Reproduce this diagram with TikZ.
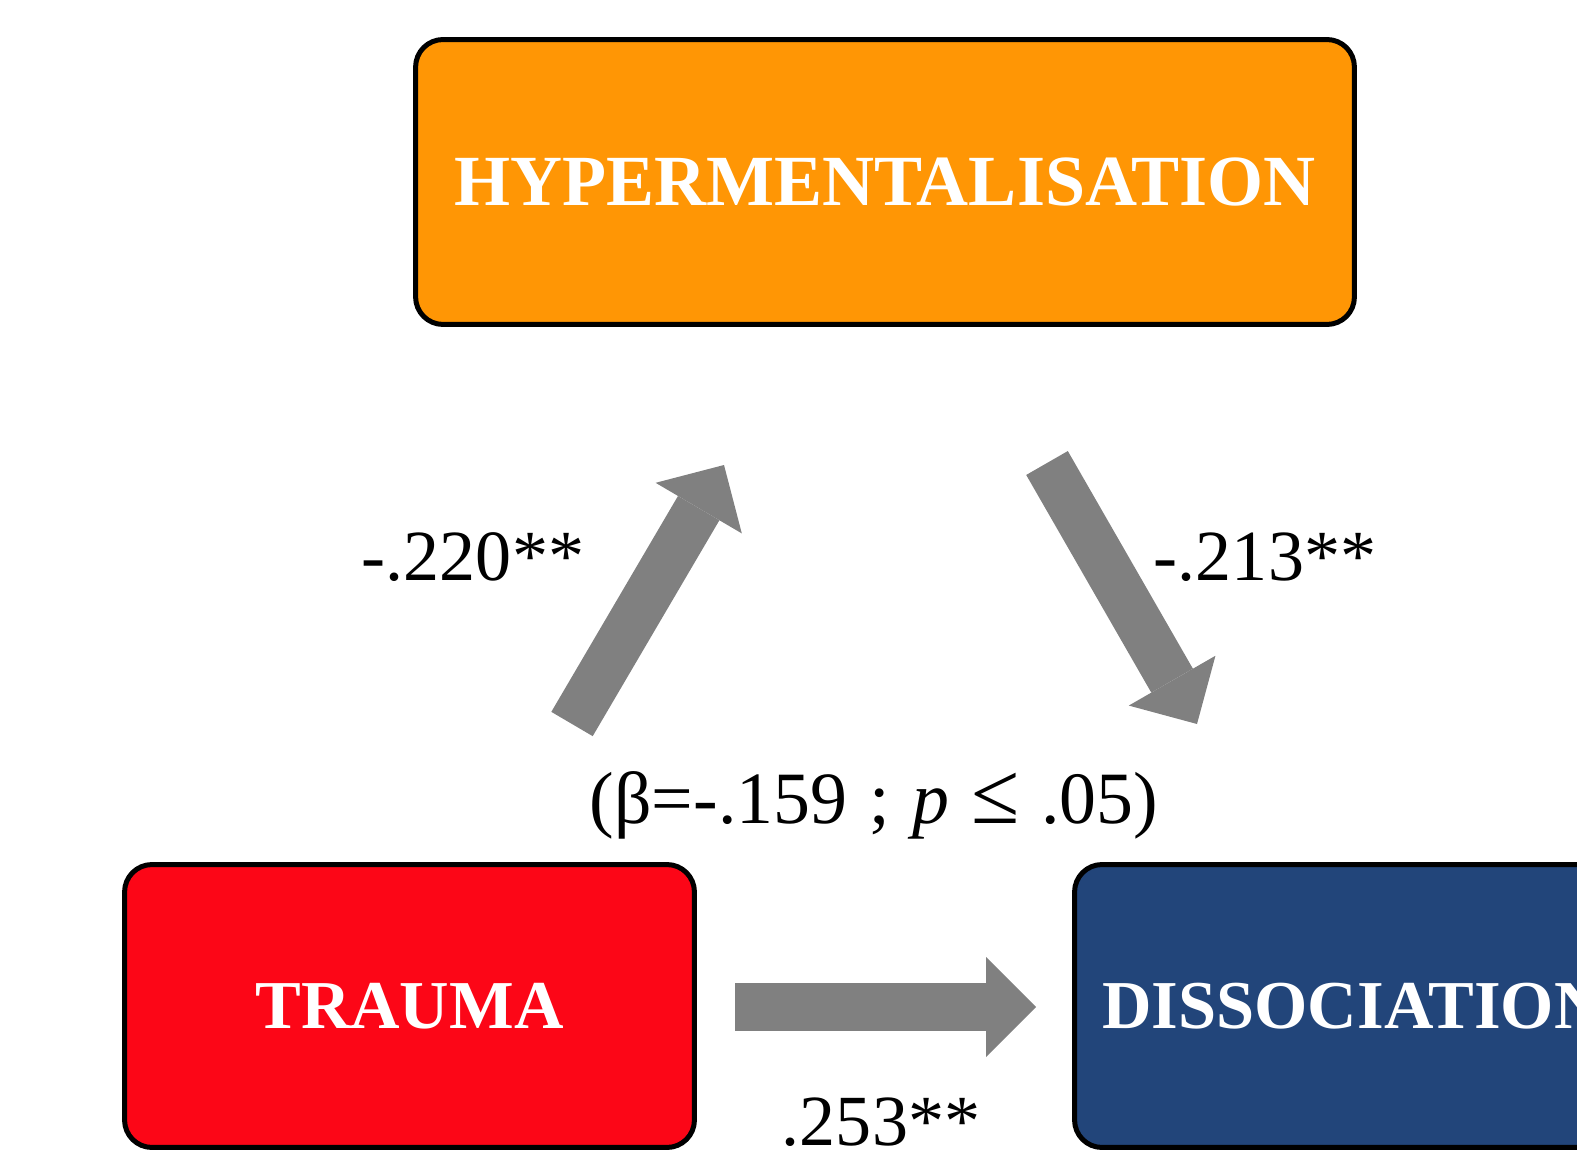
\documentclass[tikz,border=0pt]{standalone}
\usepackage{fontspec}
\setmainfont{Liberation Serif}
\usetikzlibrary{arrows.meta}
\definecolor{hyperorange}{RGB}{255,150,5}
\definecolor{traumared}{RGB}{252,6,23}
\definecolor{dissoblue}{RGB}{34,69,122}
\definecolor{arrowgray}{RGB}{128,128,128}
\begin{document}
\begin{tikzpicture}[x=0.02cm,y=-0.02cm,
    varbox/.style={draw=black,line width=0.1cm,rounded corners=0.55cm,text=white,
      font=\fontsize{39}{47}\selectfont\bfseries,inner sep=0pt},
    coeff/.style={font=\fontsize{41}{49}\selectfont,inner sep=0pt},
    bigarrow/.style={arrowgray,line width=0.96cm,
      -{Triangle[length=1cm 0,width=2cm 0,line width=0pt 0]}}]
    \useasboundingbox (0,0) rectangle (1577,1155);
    % variables
    \node[varbox,fill=hyperorange,minimum width=18.78cm,minimum height=5.7cm,
      font=\fontsize{41}{49}\selectfont\bfseries] (hyper) at (885,182) {HYPERMENTALISATION};
    \node[varbox,fill=traumared,minimum width=11.4cm,minimum height=5.66cm] (trauma) at (409.5,1006) {TRAUMA};
    \node[varbox,fill=dissoblue,minimum width=11.14cm,minimum height=5.66cm] (disso) at (1353,1006) {DISSOCIATION};
    % paths
    \coordinate (upTail) at (572,724);
    \coordinate (upTip) at (724,465);
    \coordinate (downTail) at (1047,463);
    \coordinate (downTip) at (1197,724);
    \coordinate (directTail) at (735,1007);
    \coordinate (directTip) at (1036,1007);
    \draw[bigarrow] (upTail) -- (upTip);
    \draw[bigarrow] (downTail) -- (downTip);
    \draw[bigarrow] (directTail) -- (directTip);
    % coefficients
    \node[coeff] (aPath) at (473,557) {-.220**};
    \node[coeff] (bPath) at (1265,557) {-.213**};
    \node[coeff] (cPath) at (881,1122) {.253**};
    \node[coeff,font=\fontsize{42}{50}\selectfont] (indirect) at (874,805)
      {\spaceskip=0.3em (β=-.159 ; \textit{p} {\fontsize{50}{50}\selectfont ≤} .05)};
\end{tikzpicture}
\end{document}
